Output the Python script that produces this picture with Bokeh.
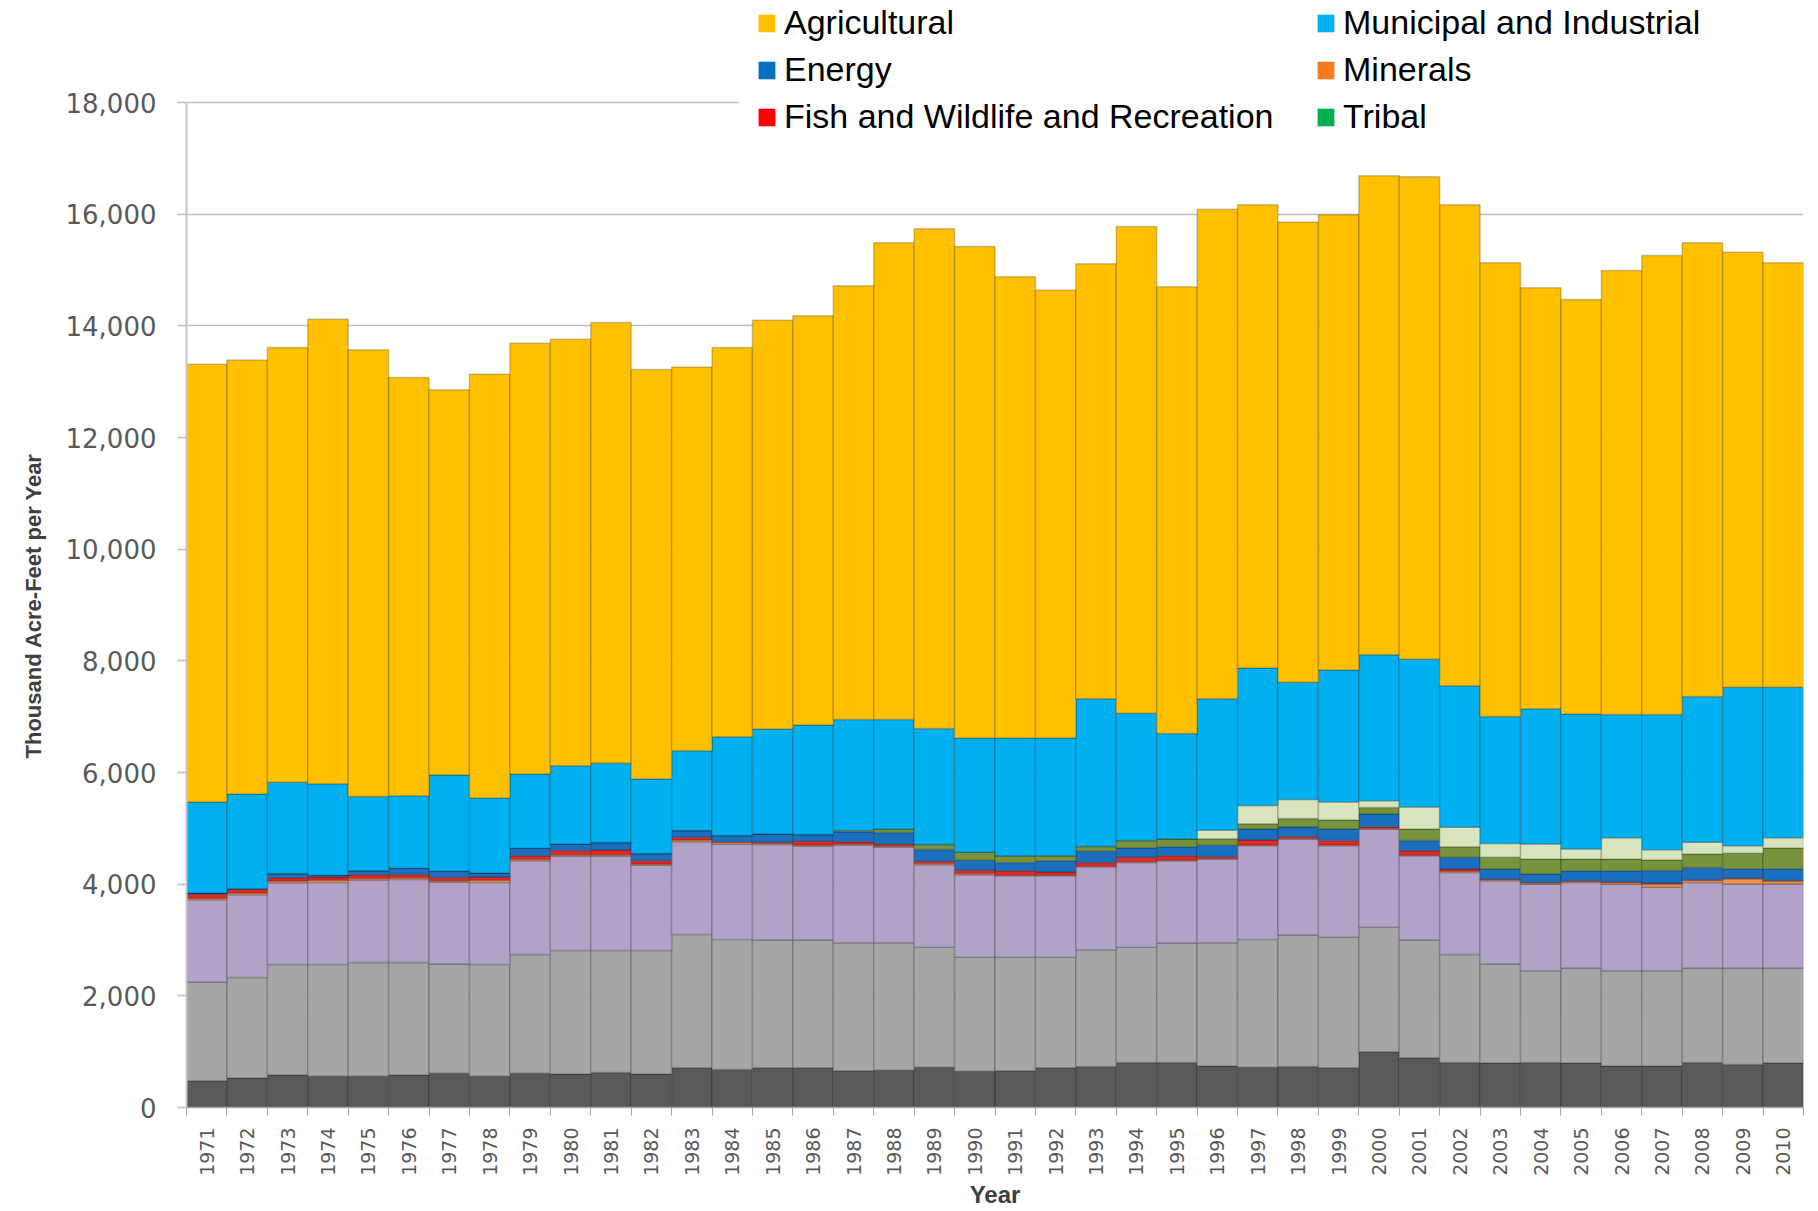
import math
from bokeh.plotting import figure
from bokeh.models import (ColumnDataSource, FixedTicker, NumeralTickFormatter,
                          Legend, LegendItem, Range1d, Title)
from bokeh.embed import file_html
from bokeh.resources import INLINE

# ---------------- data (thousand acre-feet per year) ----------------
years = [1971, 1972, 1973, 1974, 1975, 1976, 1977, 1978, 1979, 1980,
         1981, 1982, 1983, 1984, 1985, 1986, 1987, 1988, 1989, 1990,
         1991, 1992, 1993, 1994, 1995, 1996, 1997, 1998, 1999, 2000,
         2001, 2002, 2003, 2004, 2005, 2006, 2007, 2008, 2009, 2010]
year_labels = [str(y) for y in years]

dark_gray = [480, 530, 580, 560, 560, 580, 615, 560, 615, 600,
             625, 600, 710, 680, 710, 710, 660, 665, 720, 650,
             660, 710, 735, 805, 805, 745, 720, 735, 710, 1000,
             890, 805, 795, 805, 795, 745, 745, 805, 770, 795]
light_gray = [1770, 1800, 1980, 2000, 2035, 2015, 1955, 2000, 2125, 2210,
              2185, 2210, 2390, 2330, 2290, 2290, 2290, 2285, 2150, 2040,
              2030, 1980, 2090, 2065, 2140, 2205, 2290, 2355, 2340, 2230,
              2110, 1935, 1775, 1645, 1705, 1705, 1705, 1695, 1730, 1705]
lavender = [1470, 1480, 1465, 1470, 1475, 1490, 1470, 1470, 1680, 1695,
            1695, 1530, 1660, 1710, 1710, 1680, 1750, 1715, 1480, 1480,
            1460, 1460, 1485, 1520, 1475, 1500, 1680, 1720, 1640, 1755,
            1510, 1470, 1490, 1550, 1530, 1550, 1495, 1530, 1505, 1505]
minerals = [30, 30, 30, 40, 30, 30, 20, 40, 20, 20,
            20, 20, 30, 30, 20, 20, 20, 20, 20, 20,
            10, 10, 10, 10, 10, 10, 10, 10, 10, 10,
            10, 20, 20, 20, 20, 30, 60, 40, 90, 50]
fish_wildlife = [70, 65, 60, 60, 70, 60, 60, 60, 70, 80,
                 85, 65, 50, 10, 20, 70, 40, 30, 40, 60,
                 80, 60, 70, 80, 80, 35, 90, 35, 80, 35,
                 80, 40, 10, 10, 10, 10, 10, 10, 10, 10]
energy = [20, 15, 75, 30, 70, 110, 110, 70, 135, 115,
          135, 125, 120, 110, 150, 120, 180, 210, 210, 180,
          150, 200, 200, 170, 160, 200, 200, 170, 210, 225,
          180, 210, 180, 150, 180, 200, 230, 220, 170, 210]
tribal = [0, 0, 0, 0, 0, 0, 0, 0, 0, 0,
          0, 0, 0, 0, 0, 0, 20, 60, 90, 140,
          120, 90, 85, 130, 140, 120, 90, 150, 160, 120,
          210, 190, 210, 270, 210, 210, 190, 240, 280, 375]
other = [0, 0, 0, 0, 0, 0, 0, 0, 0, 0,
         0, 0, 0, 0, 0, 0, 0, 0, 0, 0,
         0, 0, 0, 0, 0, 150, 330, 340, 320, 120,
         390, 350, 250, 270, 180, 380, 180, 210, 135, 180]
municipal = [1630, 1695, 1635, 1640, 1330, 1300, 1725, 1345, 1330, 1400,
             1420, 1335, 1430, 1770, 1880, 1960, 1990, 1965, 2080, 2050,
             2110, 2110, 2645, 2280, 1890, 2355, 2460, 2100, 2365, 2615,
             2650, 2535, 2275, 2420, 2420, 2210, 2425, 2610, 2835, 2695]
agricultural = [7840, 7775, 7785, 8320, 8000, 7490, 6900, 7590, 7715, 7640,
                7895, 7335, 6875, 6970, 7320, 7330, 7770, 8540, 8950, 8800,
                8260, 8020, 7790, 8720, 8000, 8770, 8300, 8245, 8155, 8580,
                8640, 8615, 8125, 7540, 7420, 7950, 8220, 8130, 7795, 7605]

y_ticks = [0, 2000, 4000, 6000, 8000, 10000, 12000, 14000, 16000, 18000]

stack_keys = ["dark_gray", "light_gray", "lavender", "minerals", "fish_wildlife",
              "energy", "tribal", "other", "municipal", "agricultural"]
stack_colors = ["#595959", "#a6a6a6", "#b3a2c7", "#f0904a", "#e02a2a",
                "#1a6fbf", "#77933c", "#d7e4bd", "#00b0f0", "#ffc000"]

legend_col1 = [("Agricultural", "#ffc000"), ("Energy", "#0070c0"),
               ("Fish and Wildlife and Recreation", "#ff0000")]
legend_col2 = [("Municipal and Industrial", "#00b0f0"), ("Minerals", "#f47b20"),
               ("Tribal", "#00b050")]

source = ColumnDataSource(dict(
    year=years, dark_gray=dark_gray, light_gray=light_gray, lavender=lavender,
    minerals=minerals, fish_wildlife=fish_wildlife, energy=energy, tribal=tribal,
    other=other, municipal=municipal, agricultural=agricultural))

# ---------------- figure ----------------
# frame reaches the top of the page so the legend (which overlaps the
# 18,000 line) is not clipped; 18,000 stays at the same height as in the reference
p = figure(width=1816, height=1210, output_backend="svg", toolbar_location=None,
           x_range=Range1d(1970.5, 2010.5), y_range=Range1d(0, 19827),
           min_border_left=186, min_border_right=13, min_border_top=0,
           min_border_bottom=103)
p.outline_line_color = None
p.background_fill_color = "white"
p.border_fill_color = "white"

p.vbar_stack(stack_keys, x="year", width=1.0, source=source,
             fill_color=stack_colors, line_color="black", line_alpha=0.2,
             line_width=1.5)

# axes
xa = p.xaxis[0]
xa.ticker = FixedTicker(ticks=years, minor_ticks=[years[0] - 0.5 + i for i in range(len(years) + 1)])
xa.major_label_overrides = {y: s for y, s in zip(years, year_labels)}
xa.major_label_orientation = math.pi / 2
xa.major_tick_out = 0
xa.major_tick_in = 0
xa.minor_tick_out = 8
xa.minor_tick_in = 0
xa.minor_tick_line_color = "#a6a6a6"
xa.axis_line_color = "#a6a6a6"
xa.axis_line_width = 1.5
xa.major_label_standoff = 12
xa.major_label_text_font = "DejaVu Sans"
xa.major_label_text_font_size = "19px"
xa.major_label_text_color = "#595959"
xa.axis_label = "Year"
xa.axis_label_text_font = "Liberation Sans"
xa.axis_label_text_font_style = "bold"
xa.axis_label_text_font_size = "24px"
xa.axis_label_text_color = "#404040"
xa.axis_label_standoff = 2

ya = p.yaxis[0]
ya.bounds = (0, 18000)
ya.ticker = FixedTicker(ticks=y_ticks)
ya.formatter = NumeralTickFormatter(format="0,0")
ya.major_tick_out = 9
ya.major_tick_in = 0
ya.minor_tick_out = 0
ya.minor_tick_in = 0
ya.major_tick_line_color = "#bfbfbf"
ya.major_tick_line_width = 1.5
ya.axis_line_color = "#c8c8c8"
ya.axis_line_width = 2
ya.major_label_standoff = 21
ya.major_label_text_font = "DejaVu Sans"
ya.major_label_text_font_size = "26px"
ya.major_label_text_color = "#595959"

# y axis title, placed along the 0..18,000 part of the axis
ytitle = Title(text="Thousand Acre-Feet per Year", align="left", offset=349,
               text_font="Liberation Sans", text_font_style="bold",
               text_font_size="22px", text_color="#404040", standoff=33)
p.add_layout(ytitle, "left")

p.xgrid.grid_line_color = None
p.ygrid.grid_line_color = "#bfbfbf"
p.ygrid.grid_line_width = 1.5

# ---------------- legend (two columns) ----------------
nan = float("nan")

def make_items(entries):
    items = []
    for label, color in entries:
        # swatch-only renderer (NaN geometry draws nothing in the plot)
        r = p.quad(left=[nan], right=[nan], top=[nan], bottom=[nan],
                   fill_color=color, line_color=None)
        items.append(LegendItem(label=label, renderers=[r]))
    return items

def style_legend(leg):
    leg.label_text_font = "Liberation Sans"
    leg.label_text_font_size = "34px"
    leg.label_text_color = "black"
    leg.glyph_width = 21
    leg.glyph_height = 22
    leg.label_height = 47
    leg.spacing = 0
    leg.padding = 16
    leg.margin = 0
    leg.label_standoff = 7
    leg.border_line_color = "white"
    leg.border_line_width = 1
    leg.background_fill_color = "white"
    leg.background_fill_alpha = 1.0

leg1 = Legend(items=make_items(legend_col1), location=(553, 950))
style_legend(leg1)
leg1.label_width = 510
leg2 = Legend(items=make_items(legend_col2), location=(1112, 950))
style_legend(leg2)
leg2.label_width = 450
p.add_layout(leg1, "center")
p.add_layout(leg2, "center")

open("out.html", "w").write(file_html(p, INLINE, title="Water use by category"))
